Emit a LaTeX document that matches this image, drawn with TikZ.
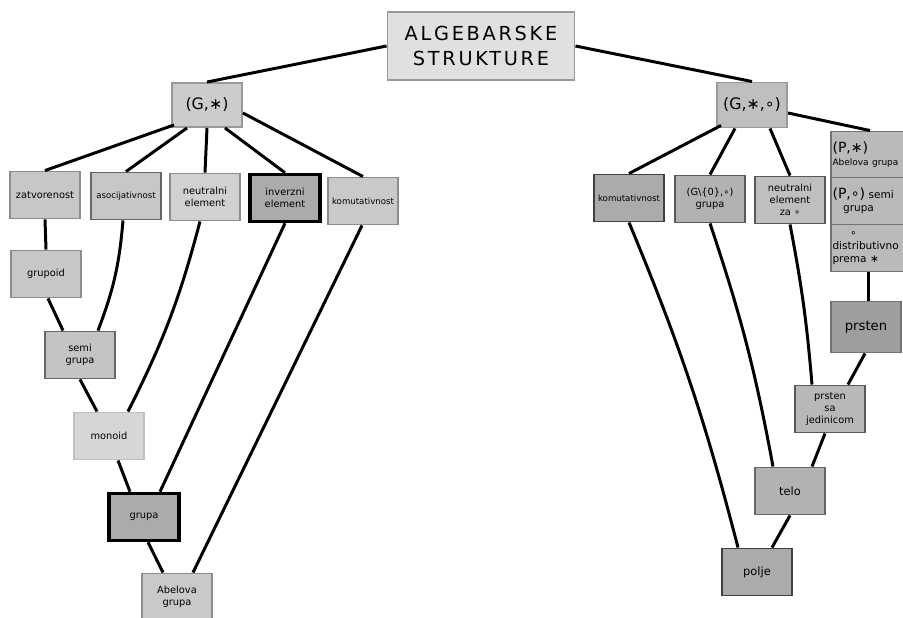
\documentclass[tikz,border=0pt]{standalone}
\usepackage{fontspec}
\setmainfont{DejaVu Sans}
\newfontfamily\titlefont[LetterSpace=14]{DejaVu Sans}
\usetikzlibrary{calc}

\begin{document}
\begin{tikzpicture}[x=0.02cm, y=-0.02cm,
    box/.style={fill=black!#1, draw=black!45, line width=1.1pt, minimum width=1.4cm, minimum height=0.94cm, inner sep=1pt, align=center, font=\fontsize{5.6}{7}\selectfont},
    hard/.style={draw=black, line width=2pt},
    stackbox/.style={box=27, draw=black!55, text width=1.9cm, align=left, font=\fontsize{6}{7.5}\selectfont},
    conn/.style={line width=1.7pt, black}
]
    \useasboundingbox (0,0) rectangle (903,618);

    % Top
    \node[box=12, draw=black!40, minimum width=3.74cm, minimum height=1.36cm, font=\titlefont\fontsize{11}{14}\selectfont] (alg) at (481,46) {ALGEBARSKE\\STRUKTURE};
    \node[box=20, draw=black!40, minimum height=0.88cm, font=\fontsize{9}{10}\selectfont] (gs) at (207,105) {(G,∗)};
    \node[box=25, draw=black!40, minimum height=0.9cm, font=\fontsize{9}{10}\selectfont] (gso) at (752,105) {(G,∗,∘)};

    % Left: properties of (G,*)
    \node[box=22] (zat) at (45,195) {zatvorenost};
    \node[box=22, draw=black!60, font=\fontsize{4.9}{6}\selectfont] (aso) at (126,196) {asocijativnost};
    \node[box=18] (neu) at (205,197) {neutralni\\element};
    \node[box=33, hard] (inv) at (285,198) {inverzni\\element};
    \node[box=21, font=\fontsize{4.9}{6}\selectfont] (kom) at (363,201) {komutativnost};

    % Left: structures
    \node[box=22] (grupoid) at (46,274) {grupoid};
    \node[box=23, draw=black!60] (semi) at (80,355) {semi\\grupa};
    \node[box=16, draw=black!25] (monoid) at (109,436) {monoid};
    \node[box=33, hard] (grupa) at (144,517) {grupa};
    \node[box=21] (abel) at (177,597) {Abelova\\grupa};

    % Right: properties of (G,*,o)
    \node[box=33, draw=black!75, font=\fontsize{4.9}{6}\selectfont] (rkom) at (629,198) {komutativnost};
    \node[box=30, draw=black!65] (rg0) at (710,199) {(G\textbackslash\{0\},∘)\\grupa};
    \node[box=25, draw=black!65] (rneu) at (790,200) {neutralni\\element\\za ∘};
    \node[stackbox] (st1) at (880,155) {{\fontsize{8}{9}\selectfont(P,∗)}\\{\fontsize{5.1}{6.5}\selectfont Abelova grupa}};
    \node[stackbox] (st2) at (880,201) {{\fontsize{8}{9}\selectfont(P,∘)} semi\\\quad grupa};
    \node[stackbox] (st3) at (880,248) {\quad\ \ ∘\\distributivno\\prema ∗};

    % Right: structures
    \node[box=38, draw=black!55, minimum height=1.02cm, font=\fontsize{7.5}{8}\selectfont] (prsten) at (866,327) {prsten};
    \node[box=28, draw=black!65] (psj) at (830,409) {prsten\\sa\\jedinicom};
    \node[box=30, draw=black!60, font=\fontsize{6.5}{8}\selectfont] (telo) at (790,491) {telo};
    \node[box=33, draw=black!75, font=\fontsize{6.5}{8}\selectfont] (polje) at (757,572) {polje};

    % Connectors, top
    \draw[conn] (alg.west) -- (gs.north);
    \draw[conn] (alg.east) -- (gso.north);

    \draw[conn] ($(gs.south west)+(3,-3)$) -- (zat.north);
    \draw[conn] ($(gs.south)+(-20,0)$) -- (aso.north);
    \draw[conn] (gs.south) -- (neu.north);
    \draw[conn] ($(gs.south)+(18,0)$) -- (inv.north);
    \draw[conn] ($(gs.east)+(0,8)$) -- (kom.north);

    \draw[conn] ($(gso.south west)+(5,-3)$) -- (rkom.north);
    \draw[conn] ($(gso.south)+(-17,0)$) -- (rg0.north);
    \draw[conn] ($(gso.south)+(18,0)$) -- (rneu.north);
    \draw[conn] ($(gso.east)+(0,8)$) -- ($(st1.north)+(-10,0)$);

    % Connectors, left
    \draw[conn] (zat.south) -- (grupoid.north);
    \draw[conn] ($(grupoid.south)+(2,0)$) -- ($(semi.north)+(-17,0)$);
    \draw[conn] ($(aso.south)+(-3,0)$) to[bend left=8] ($(semi.north)+(18,0)$);
    \draw[conn] (semi.south) -- ($(monoid.north)+(-12,0)$);
    \draw[conn] ($(neu.south)+(-5,0)$) to[bend left=6] ($(monoid.north)+(19,0)$);
    \draw[conn] ($(monoid.south)+(9,0)$) -- ($(grupa.north)+(-14,0)$);
    \draw[conn] (inv.south) -- ($(grupa.north)+(16,0)$);
    \draw[conn] ($(grupa.south)+(4,0)$) -- ($(abel.north)+(-14,0)$);
    \draw[conn] ($(kom.south)+(-1,0)$) -- ($(abel.north)+(16,0)$);

    % Connectors, right
    \draw[conn] (rkom.south) to[bend left=4] ($(polje.north)+(-19,0)$);
    \draw[conn] (rg0.south) to[bend left=4] ($(telo.north)+(-17,0)$);
    \draw[conn] (rneu.south) to[bend left=3] ($(psj.north)+(-18,0)$);
    \draw[conn] ($(st3.south)+(-12,0)$) -- ($(prsten.north)+(2,0)$);
    \draw[conn] ($(prsten.south)+(-1,0)$) -- ($(psj.north)+(18,0)$);
    \draw[conn] ($(psj.south)+(-5,0)$) -- ($(telo.north)+(22,0)$);
    \draw[conn] (telo.south) -- ($(polje.north)+(15,0)$);
\end{tikzpicture}
\end{document}
